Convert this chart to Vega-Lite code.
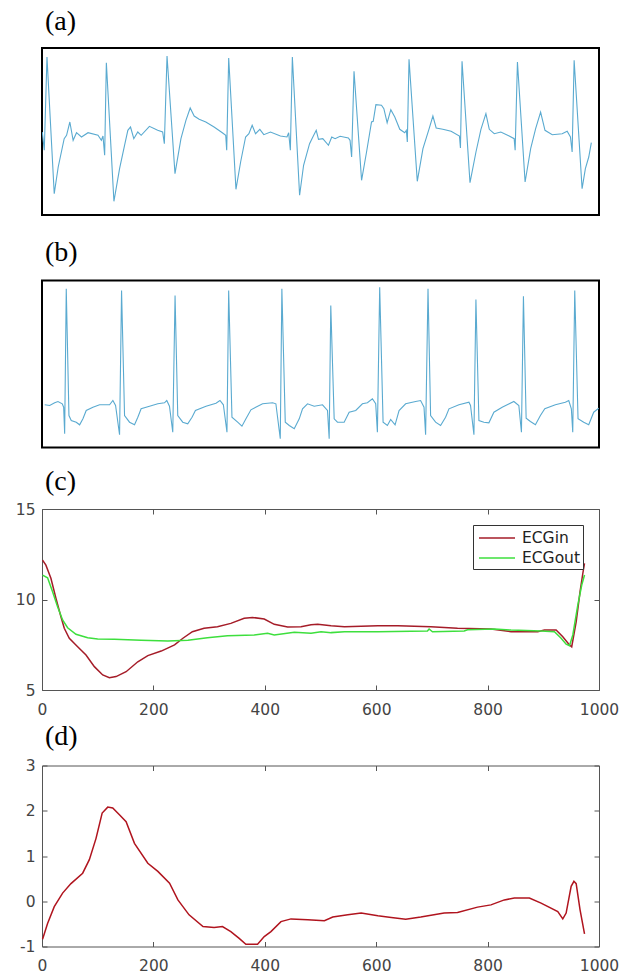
{
  "$schema": "https://vega.github.io/schema/vega-lite/v6.json",
  "background": "white",
  "padding": {"left": 14, "top": 7, "right": 5, "bottom": 5},
  "spacing": 3.5,
  "resolve": {"scale": {"color": "independent"}, "legend": {"color": "independent"}},
  "config": {
    "view": {"stroke": "#555", "strokeWidth": 1},
    "axis": {"grid": false, "domain": false, "tickColor": "#555", "tickSize": -5, "tickWidth": 1, "labelFont": "DejaVu Sans", "labelFontSize": 15.5, "labelColor": "#444", "labelFlush": false, "labelOverlap": false},
    "title": {"anchor": "start", "frame": "group", "font": "Liberation Serif", "fontSize": 28, "fontWeight": "normal", "color": "black", "dx": 3, "baseline": "alphabetic"}
  },
  "datasets": {
    "a": [
      {"t":0.3,"v":83},{"t":2.3,"v":64.7},{"t":5,"v":158},{"t":12.3,"v":21.3},{"t":16.3,"v":48},{"t":22.3,"v":76.3},{"t":24.7,"v":79.7},{"t":28,"v":93},{"t":31.3,"v":74.7},{"t":34.7,"v":82.3},{"t":39.7,"v":78},{"t":46.3,"v":82.3},{"t":56.3,"v":79.7},{"t":59.7,"v":74.7},{"t":61.3,"v":79},
      {"t":63,"v":59.7},{"t":64.7,"v":152.3},{"t":72.3,"v":13.7},{"t":78,"v":46.3},{"t":83,"v":69.7},{"t":86.3,"v":84.7},{"t":89,"v":88},{"t":92.3,"v":76.3},{"t":96.3,"v":83},{"t":99.7,"v":79.7},{"t":108,"v":88.7},{"t":116.3,"v":84.7},{"t":121.3,"v":83},
      {"t":123,"v":71.3},{"t":125.7,"v":159},{"t":133.7,"v":41.3},{"t":139.7,"v":76.3},{"t":144.7,"v":94.7},{"t":149,"v":107},{"t":153,"v":99},{"t":158,"v":95.7},{"t":164.7,"v":93},{"t":173,"v":88},{"t":181.3,"v":82.3},{"t":184.7,"v":79.7},
      {"t":185.7,"v":64.7},{"t":187.7,"v":157},{"t":195,"v":25.7},{"t":199.7,"v":53},{"t":204.7,"v":78},{"t":208,"v":81.3},{"t":211.3,"v":89.7},{"t":214.7,"v":81.3},{"t":219,"v":85.7},{"t":223,"v":80.3},{"t":229.7,"v":83},{"t":239.7,"v":79},{"t":246.3,"v":78},{"t":248,"v":82.3},
      {"t":249.7,"v":64.7},{"t":251.7,"v":158},{"t":259,"v":19.7},{"t":263,"v":49.7},{"t":269,"v":71.3},{"t":272.3,"v":78},{"t":275.7,"v":84.7},{"t":278,"v":75.7},{"t":282.3,"v":76.3},{"t":288,"v":69.7},{"t":291.3,"v":78},{"t":294.7,"v":76.3},{"t":299.7,"v":78.7},{"t":308,"v":77},{"t":309.7,"v":74.7},
      {"t":311.3,"v":58},{"t":313.7,"v":143.7},{"t":321.3,"v":34.7},{"t":326.3,"v":63},{"t":331.3,"v":93},{"t":333,"v":93.7},{"t":335.7,"v":110.3},{"t":341.3,"v":109.7},{"t":343.7,"v":106.3},{"t":347,"v":92.3},{"t":350.7,"v":105.3},{"t":354.7,"v":98},{"t":359.7,"v":85.7},{"t":364.7,"v":82.3},{"t":366.3,"v":84.7},
      {"t":367.3,"v":73},{"t":369,"v":155.7},{"t":377.3,"v":33.7},{"t":383,"v":66.3},{"t":389,"v":85.7},{"t":393,"v":99},{"t":396.3,"v":87},{"t":403,"v":85.7},{"t":411.3,"v":83.7},{"t":419.7,"v":79},
      {"t":420.7,"v":67},{"t":422.3,"v":153.7},{"t":430.3,"v":32.3},{"t":436.3,"v":63},{"t":441.3,"v":85.7},{"t":446.3,"v":101.3},{"t":449.7,"v":85.7},{"t":454.7,"v":81.3},{"t":461.3,"v":83},{"t":469.7,"v":79},{"t":474.7,"v":76.3},
      {"t":475.7,"v":64.7},{"t":478,"v":153},{"t":485.7,"v":33},{"t":491.3,"v":66.3},{"t":496.3,"v":86.3},{"t":501.3,"v":103},{"t":505.7,"v":84.7},{"t":513,"v":80.3},{"t":523,"v":81.3},{"t":528,"v":83.7},{"t":531.3,"v":78},
      {"t":533,"v":63},{"t":535,"v":154.7},{"t":543,"v":26.3},{"t":546.3,"v":46.3},{"t":549.7,"v":58},{"t":552.3,"v":72.3}
    ],
    "b": [
      {"t":2.7,"v":42.7},{"t":7.7,"v":42},{"t":12.7,"v":44.7},{"t":16,"v":46},{"t":20.3,"v":43.7},{"t":21.7,"v":40.3},
      {"t":22.7,"v":13.7},{"t":24.3,"v":158.7},{"t":27,"v":32},{"t":29.3,"v":27},{"t":34.3,"v":25.3},{"t":37.7,"v":22.7},{"t":41,"v":28.7},{"t":44.3,"v":37},{"t":51,"v":40.3},{"t":57.7,"v":42.7},{"t":67.7,"v":42.7},{"t":71,"v":47},{"t":73.7,"v":42},
      {"t":77.7,"v":12.7},{"t":79.7,"v":157},{"t":82.7,"v":32},{"t":87.7,"v":25.3},{"t":92.7,"v":22.7},{"t":96,"v":30.3},{"t":99.3,"v":38.7},{"t":107.7,"v":41.3},{"t":116,"v":43.7},{"t":122.7,"v":44.7},{"t":125,"v":47},{"t":127.7,"v":41.3},
      {"t":131,"v":15.3},{"t":133.3,"v":152},{"t":136,"v":32},{"t":141,"v":25.3},{"t":146,"v":23.7},{"t":150.3,"v":30.3},{"t":153.7,"v":37},{"t":164.3,"v":41.3},{"t":174.3,"v":44.3},{"t":178.3,"v":47},{"t":181.7,"v":42.7},
      {"t":185.3,"v":15.3},{"t":187,"v":157},{"t":190.3,"v":30.3},{"t":196,"v":25.3},{"t":200.3,"v":21.3},{"t":204.3,"v":28.7},{"t":209.3,"v":37.7},{"t":221,"v":43.7},{"t":231,"v":44.7},{"t":234.3,"v":43.7},
      {"t":238.7,"v":8.7},{"t":240.3,"v":158.7},{"t":243.7,"v":25.3},{"t":247.7,"v":22},{"t":252.7,"v":18.7},{"t":257.7,"v":28.7},{"t":261,"v":38.7},{"t":266,"v":43.7},{"t":272.7,"v":41.3},{"t":281,"v":42.7},{"t":286,"v":37},
      {"t":287.7,"v":8.7},{"t":289.3,"v":142},{"t":292.7,"v":28.7},{"t":296,"v":25.3},{"t":302.7,"v":25.3},{"t":307.7,"v":35.3},{"t":314.3,"v":37},{"t":321,"v":43.7},{"t":326,"v":44.7},{"t":331,"v":48.7},{"t":334.3,"v":43.7},
      {"t":336,"v":15.3},{"t":338.3,"v":160.3},{"t":341.7,"v":25.3},{"t":346,"v":22},{"t":349.3,"v":28},{"t":353.7,"v":22.7},{"t":357.7,"v":37},{"t":364.3,"v":43.7},{"t":374.3,"v":46},{"t":379.3,"v":47},{"t":382.7,"v":40.3},
      {"t":384.3,"v":12.7},{"t":386.7,"v":158.7},{"t":389.3,"v":32},{"t":394.3,"v":25.3},{"t":399.3,"v":22},{"t":404.3,"v":30.3},{"t":407.7,"v":38.7},{"t":417.7,"v":42.7},{"t":427.7,"v":45.3},{"t":429.3,"v":42},
      {"t":432.7,"v":12.7},{"t":434.7,"v":148},{"t":437.7,"v":27},{"t":442.7,"v":25.3},{"t":447.7,"v":24.7},{"t":452.7,"v":35.3},{"t":461,"v":40.3},{"t":472.7,"v":46},{"t":477.7,"v":42},
      {"t":480.3,"v":15.3},{"t":482.3,"v":151.3},{"t":485,"v":29.3},{"t":489.3,"v":26},{"t":494.3,"v":22.7},{"t":499.3,"v":32},{"t":503.7,"v":38.7},{"t":514.3,"v":42.7},{"t":524.3,"v":45.3},{"t":527.7,"v":47},{"t":530.3,"v":38.7},
      {"t":531.7,"v":15.3},{"t":533.7,"v":157},{"t":537,"v":28.7},{"t":542.7,"v":25.3},{"t":547.7,"v":22.7},{"t":552.7,"v":35.3},{"t":557.7,"v":39.3}
    ],
    "cin": [
      {"x":1,"y":12.18},{"x":7,"y":11.9},{"x":16,"y":11.17},{"x":25,"y":10.07},{"x":34,"y":9.05},{"x":40,"y":8.41},{"x":49,"y":7.86},{"x":64,"y":7.39},{"x":79,"y":6.93},{"x":94,"y":6.29},{"x":109,"y":5.83},{"x":121,"y":5.68},{"x":133,"y":5.74},{"x":151,"y":6.01},{"x":172,"y":6.56},{"x":190,"y":6.9},{"x":214,"y":7.15},{"x":238,"y":7.49},{"x":253,"y":7.86},{"x":270,"y":8.22},{"x":291,"y":8.41},{"x":315,"y":8.5},{"x":339,"y":8.68},{"x":363,"y":8.96},{"x":378,"y":9.01},{"x":399,"y":8.92},{"x":417,"y":8.63},{"x":441,"y":8.48},{"x":465,"y":8.5},{"x":483,"y":8.6},{"x":495,"y":8.63},{"x":519,"y":8.55},{"x":543,"y":8.5},{"x":603,"y":8.55},{"x":639,"y":8.55},{"x":698,"y":8.5},{"x":746,"y":8.41},{"x":806,"y":8.37},{"x":842,"y":8.22},{"x":890,"y":8.22},{"x":902,"y":8.31},{"x":923,"y":8.31},{"x":935,"y":7.94},{"x":947,"y":7.49},{"x":951,"y":7.39},{"x":959,"y":8.77},{"x":966,"y":10.43},{"x":971,"y":11.45},{"x":974,"y":12.0}
    ],
    "cout": [
      {"x":1,"y":11.35},{"x":10,"y":11.2},{"x":19,"y":10.43},{"x":28,"y":9.6},{"x":37,"y":8.87},{"x":46,"y":8.44},{"x":61,"y":8.08},{"x":82,"y":7.89},{"x":100,"y":7.82},{"x":130,"y":7.8},{"x":178,"y":7.75},{"x":226,"y":7.71},{"x":262,"y":7.75},{"x":297,"y":7.89},{"x":333,"y":8.0},{"x":381,"y":8.04},{"x":405,"y":8.13},{"x":417,"y":8.04},{"x":453,"y":8.19},{"x":483,"y":8.13},{"x":501,"y":8.22},{"x":519,"y":8.17},{"x":543,"y":8.22},{"x":603,"y":8.22},{"x":692,"y":8.26},{"x":695,"y":8.37},{"x":701,"y":8.22},{"x":758,"y":8.26},{"x":764,"y":8.33},{"x":812,"y":8.37},{"x":842,"y":8.31},{"x":896,"y":8.26},{"x":920,"y":8.22},{"x":932,"y":7.86},{"x":941,"y":7.53},{"x":947,"y":7.45},{"x":953,"y":8.04},{"x":962,"y":9.7},{"x":969,"y":10.8},{"x":974,"y":11.35}
    ],
    "d": [
      {"x":1,"y":-0.84},{"x":10,"y":-0.49},{"x":22,"y":-0.12},{"x":37,"y":0.18},{"x":52,"y":0.39},{"x":73,"y":0.62},{"x":85,"y":0.92},{"x":97,"y":1.39},{"x":108,"y":1.95},{"x":118,"y":2.08},{"x":127,"y":2.06},{"x":139,"y":1.91},{"x":151,"y":1.76},{"x":166,"y":1.28},{"x":190,"y":0.84},{"x":208,"y":0.66},{"x":229,"y":0.4},{"x":244,"y":0.03},{"x":264,"y":-0.3},{"x":289,"y":-0.56},{"x":309,"y":-0.58},{"x":324,"y":-0.56},{"x":339,"y":-0.67},{"x":354,"y":-0.82},{"x":366,"y":-0.95},{"x":387,"y":-0.95},{"x":399,"y":-0.78},{"x":411,"y":-0.67},{"x":429,"y":-0.45},{"x":447,"y":-0.39},{"x":477,"y":-0.41},{"x":507,"y":-0.43},{"x":522,"y":-0.35},{"x":549,"y":-0.3},{"x":573,"y":-0.26},{"x":603,"y":-0.32},{"x":627,"y":-0.36},{"x":653,"y":-0.4},{"x":680,"y":-0.35},{"x":722,"y":-0.26},{"x":746,"y":-0.25},{"x":782,"y":-0.13},{"x":806,"y":-0.08},{"x":830,"y":0.03},{"x":848,"y":0.07},{"x":875,"y":0.07},{"x":896,"y":-0.04},{"x":926,"y":-0.23},{"x":935,"y":-0.39},{"x":941,"y":-0.26},{"x":950,"y":0.33},{"x":955,"y":0.44},{"x":959,"y":0.39},{"x":966,"y":-0.19},{"x":974,"y":-0.72}
    ]
  },
  "vconcat": [
    {
      "title": {"text": "(a)", "offset": 12},
      "width": 557, "height": 167,
      "view": {"stroke": "black", "strokeWidth": 2},
      "data": {"name": "a"},
      "mark": {"type": "line", "color": "#5aaad0", "strokeWidth": 1.1, "clip": true},
      "encoding": {
        "x": {"field": "t", "type": "quantitative", "scale": {"domain": [0, 560], "nice": false}, "axis": {"labels": false, "ticks": false, "domain": false, "title": null, "minExtent": 17.5, "maxExtent": 17.5}},
        "y": {"field": "v", "type": "quantitative", "scale": {"domain": [0, 167], "nice": false, "zero": false}, "axis": null}
      }
    },
    {
      "title": {"text": "(b)", "offset": 14},
      "width": 557, "height": 167,
      "view": {"stroke": "black", "strokeWidth": 2},
      "data": {"name": "b"},
      "mark": {"type": "line", "color": "#5aaad0", "strokeWidth": 1.1, "clip": true},
      "encoding": {
        "x": {"field": "t", "type": "quantitative", "scale": {"domain": [0, 558], "nice": false}, "axis": {"labels": false, "ticks": false, "domain": false, "title": null, "minExtent": 14.5, "maxExtent": 14.5}},
        "y": {"field": "v", "type": "quantitative", "scale": {"domain": [0, 167], "nice": false, "zero": false}, "axis": null}
      }
    },
    {
      "title": {"text": "(c)", "offset": 6},
      "width": 557, "height": 181,
      "resolve": {"axis": {"x": "independent", "y": "independent"}},
      "layer": [
        {
          "data": {"name": "cin"},
          "mark": {"type": "line", "strokeWidth": 1.5},
          "encoding": {
            "x": {"field": "x", "type": "quantitative", "scale": {"domain": [0, 1000], "nice": false}, "axis": {"values": [0, 200, 400, 600, 800, 1000], "format": "d", "title": null, "labelPadding": 17}},
            "y": {"field": "y", "type": "quantitative", "scale": {"domain": [5, 15], "nice": false, "zero": false}, "axis": {"values": [5, 10, 15], "labelExpr": "replace(datum.label, '\u2212', '-')", "title": null, "labelPadding": 12, "minExtent": 27, "maxExtent": 27}},
            "color": {"datum": "ECGin", "type": "nominal", "scale": {"domain": ["ECGin", "ECGout"], "range": ["#a51c28", "#3ddf3d"]},
              "legend": {"title": null, "orient": "top-right", "offset": 16, "strokeColor": "#333", "fillColor": "white", "padding": 2, "symbolType": "M-0.7,0H2.9", "symbolSize": 400, "symbolStrokeWidth": 1.5, "labelFont": "DejaVu Sans", "labelFontSize": 15.5, "labelColor": "#222", "labelOffset": 25, "rowPadding": 0}}
          }
        },
        {
          "data": {"name": "cout"},
          "mark": {"type": "line", "strokeWidth": 1.5},
          "encoding": {
            "x": {"field": "x", "type": "quantitative", "scale": {"domain": [0, 1000], "nice": false}, "axis": {"orient": "top", "values": [0, 200, 400, 600, 800, 1000], "labels": false, "title": null, "minExtent": 0, "maxExtent": 0}},
            "y": {"field": "y", "type": "quantitative", "scale": {"domain": [5, 15], "nice": false, "zero": false}, "axis": {"orient": "right", "values": [5, 10, 15], "labels": false, "title": null, "minExtent": 0, "maxExtent": 0}},
            "color": {"datum": "ECGout", "type": "nominal"}
          }
        }
      ]
    },
    {
      "title": {"text": "(d)", "offset": 8},
      "width": 557, "height": 181,
      "resolve": {"axis": {"x": "independent", "y": "independent"}},
      "data": {"name": "d"},
      "layer": [
        {
          "mark": {"type": "line", "strokeWidth": 1.5, "color": "#b0141e"},
          "encoding": {
            "x": {"field": "x", "type": "quantitative", "scale": {"domain": [0, 1000], "nice": false}, "axis": {"values": [0, 200, 400, 600, 800, 1000], "format": "d", "title": null, "labelPadding": 17}},
            "y": {"field": "y", "type": "quantitative", "scale": {"domain": [-1, 3], "nice": false, "zero": false}, "axis": {"values": [-1, 0, 1, 2, 3], "labelExpr": "replace(datum.label, '\u2212', '-')", "title": null, "labelPadding": 12, "minExtent": 27, "maxExtent": 27}}
          }
        },
        {
          "mark": {"type": "line", "opacity": 0},
          "encoding": {
            "x": {"field": "x", "type": "quantitative", "scale": {"domain": [0, 1000], "nice": false}, "axis": {"orient": "top", "values": [0, 200, 400, 600, 800, 1000], "labels": false, "title": null, "minExtent": 0, "maxExtent": 0}},
            "y": {"field": "y", "type": "quantitative", "scale": {"domain": [-1, 3], "nice": false, "zero": false}, "axis": {"orient": "right", "values": [-1, 0, 1, 2, 3], "labels": false, "title": null, "minExtent": 0, "maxExtent": 0}}
          }
        }
      ]
    }
  ]
}
